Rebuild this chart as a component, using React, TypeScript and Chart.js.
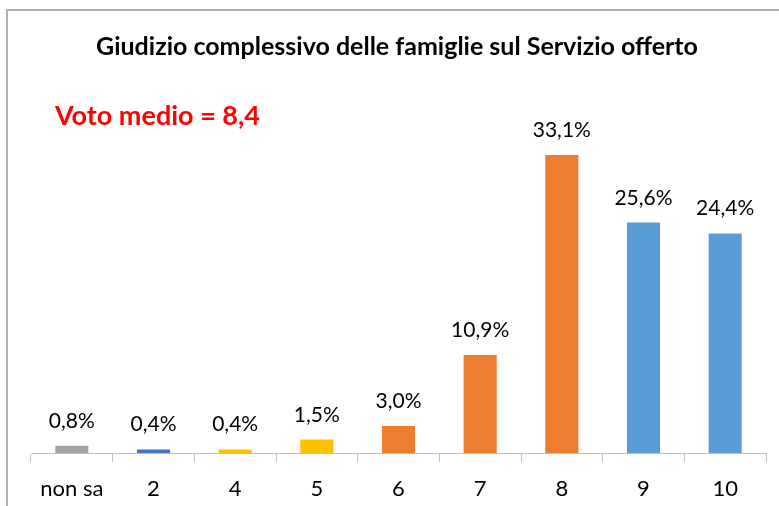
import React, { useEffect, useRef } from "react";
import { Chart, registerables } from "chart.js";

Chart.register(...registerables);

const categories = ["non sa", "2", "4", "5", "6", "7", "8", "9", "10"];
const values = [0.8, 0.4, 0.4, 1.5, 3.0, 10.9, 33.1, 25.6, 24.4];
const barColors = ["#a5a5a5", "#4472c4", "#ffc000", "#ffc000", "#ed7d31", "#ed7d31", "#ed7d31", "#5b9bd5", "#5b9bd5"];
const titleText = "Giudizio complessivo delle famiglie sul Servizio offerto";
const noteText = "Voto medio = 8,4";

const FONT = "Lato, 'Liberation Sans', sans-serif";

const fmt = (v: number) => v.toFixed(1).replace(".", ",") + "%";

const decorPlugin = {
  id: "decor",
  afterDraw(chart: any) {
    const ctx = chart.ctx;
    ctx.save();
    // frame
    ctx.strokeStyle = "#b0b0b0";
    ctx.lineWidth = 2;
    ctx.strokeRect(7, 10, 820, 560);
    // title
    ctx.fillStyle = "#000000";
    ctx.font = `bold 25px ${FONT}`;
    ctx.textAlign = "center";
    ctx.textBaseline = "alphabetic";
    ctx.fillText(titleText, 397, 55);
    // note
    ctx.fillStyle = "#ff0000";
    ctx.font = `bold 27px ${FONT}`;
    ctx.textAlign = "left";
    ctx.fillText(noteText, 55, 125);
    // data labels
    const meta = chart.getDatasetMeta(0);
    ctx.fillStyle = "#000000";
    ctx.font = `21px ${FONT}`;
    ctx.textAlign = "center";
    meta.data.forEach((bar: any, i: number) => {
      ctx.fillText(fmt(values[i]), bar.x, bar.y - 18);
    });
    ctx.restore();
  },
};

export default function App() {
  const ref = useRef<HTMLCanvasElement | null>(null);
  useEffect(() => {
    if (!ref.current) return;
    const chart = new Chart(ref.current, {
      type: "bar",
      data: {
        labels: categories,
        datasets: [
          {
            data: values,
            backgroundColor: barColors,
            borderWidth: 0,
            categoryPercentage: 1,
            barPercentage: 0.405,
          },
        ],
      },
      options: {
        animation: false,
        responsive: false,
        devicePixelRatio: 1,
        layout: { padding: { left: 31, right: 13, top: 93, bottom: 0 } },
        plugins: { legend: { display: false }, tooltip: { enabled: false }, title: { display: false } },
        scales: {
          y: { display: false, min: 0, max: 40 },
          x: {
            afterFit: (scale: any) => {
              scale.height = 53;
            },
            grid: { display: true, drawOnChartArea: false, drawTicks: true, tickLength: 9, color: "#bfbfbf", offset: true },
            border: { display: true, color: "#bfbfbf", width: 1 },
            ticks: { color: "#000000", font: { family: FONT, size: 22 }, padding: 14, maxRotation: 0, autoSkip: false },
          },
        },
      },
      plugins: [decorPlugin],
    });
    return () => chart.destroy();
  }, []);
  return (
    <div style={{ position: "fixed", left: 0, top: 0, width: 779, height: 506, background: "#fff" }}>
      <canvas ref={ref} width={779} height={506} style={{ display: "block" }} />
    </div>
  );
}
